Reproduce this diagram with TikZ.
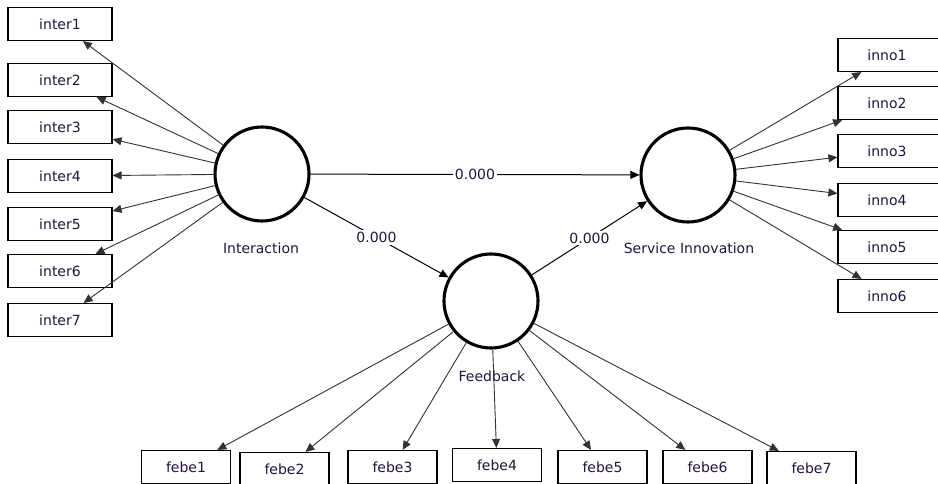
\documentclass[tikz,border=0pt]{standalone}
\usepackage{fontspec}
\setmainfont{DejaVu Sans}
\usetikzlibrary{arrows.meta}
\definecolor{txt}{RGB}{35,20,60}
\definecolor{edge}{RGB}{50,50,50}
\begin{document}
\begin{tikzpicture}[x=1pt,y=-1pt,
  every node/.style={font=\fontsize{14}{16}\selectfont,text=txt},
  latent/.style={circle,draw=black,line width=3.1pt,minimum size=94pt,inner sep=0pt},
  indic/.style={draw=black,line width=1.1pt,fill=white,minimum height=33pt,inner sep=0pt},
  wide/.style={minimum width=104pt},
  narrow/.style={minimum width=89pt},
  load/.style={draw=edge,line width=0.9pt,-{Triangle[length=9pt,width=8pt]}},
  struct/.style={draw=black,line width=1pt,-{Triangle[length=9pt,width=8pt]}},
  coef/.style={fill=white,inner sep=2pt,pos=0.5}
]
\useasboundingbox (0,0) rectangle (938,484);

% latent constructs
\node[latent] (int) at (262,174) {};
\node[latent] (si)  at (688,175) {};
\node[latent] (fb)  at (491,301) {};
\node at (261,248) {Interaction};
\node at (689,248) {Service Innovation};
\node at (492,376) {Feedback};

% indicators of Interaction
\node[indic,wide] (inter1) at (60,24)  {inter1};
\node[indic,wide] (inter2) at (60,80)  {inter2};
\node[indic,wide] (inter3) at (60,127) {inter3};
\node[indic,wide] (inter4) at (60,176) {inter4};
\node[indic,wide] (inter5) at (60,224) {inter5};
\node[indic,wide] (inter6) at (60,271) {inter6};
\node[indic,wide] (inter7) at (60,320) {inter7};

% indicators of Service Innovation (cut by the right edge)
\node[indic,wide] (inno1) at (890,55)  {\hspace*{-6pt}inno1};
\node[indic,wide] (inno2) at (890,103) {\hspace*{-6pt}inno2};
\node[indic,wide] (inno3) at (890,151) {\hspace*{-6pt}inno3};
\node[indic,wide] (inno4) at (890,200) {\hspace*{-6pt}inno4};
\node[indic,wide] (inno5) at (890,247) {\hspace*{-6pt}inno5};
\node[indic,wide] (inno6) at (890,296) {\hspace*{-6pt}inno6};

% indicators of Feedback
\node[indic,narrow] (febe1) at (186,467)   {febe1};
\node[indic,narrow] (febe2) at (284.5,469) {febe2};
\node[indic,narrow] (febe3) at (392.5,467) {febe3};
\node[indic,narrow] (febe4) at (497,465)   {febe4};
\node[indic,narrow] (febe5) at (602.5,467) {febe5};
\node[indic,narrow] (febe6) at (707.5,467) {febe6};
\node[indic,narrow] (febe7) at (811.5,468) {febe7};

% outer loadings
\foreach \i in {1,...,7} \draw[load] (int) -- (inter\i);
\foreach \i in {1,...,6} \draw[load] (si) -- (inno\i);
\foreach \i in {1,...,7} \draw[load] (fb) -- (febe\i);

% structural paths
\draw[struct] (int) -- node[coef] {0.000} (si);
\draw[struct] (int) -- node[coef] {0.000} (fb);
\draw[struct] (fb)  -- node[coef] {0.000} (si);
\end{tikzpicture}
\end{document}
